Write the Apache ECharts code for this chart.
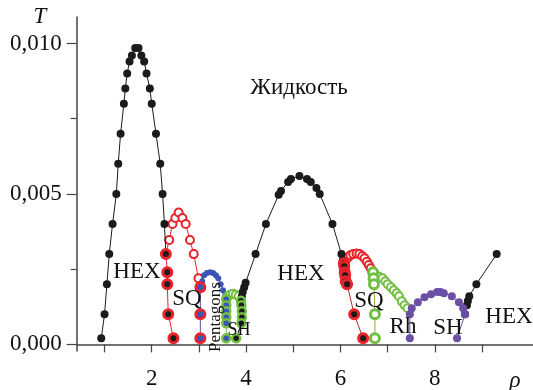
<!DOCTYPE html>
<html>
<head>
<meta charset="utf-8">
<script src="https://cdn.jsdelivr.net/npm/echarts@6/dist/echarts.min.js"></script>
<style>
  html, body { margin: 0; padding: 0; background: #fff; }
  #chart { width: 533px; height: 390px; }
</style>
</head>
<body>
<div id="chart"></div>
<script>
// data: [rho, T]
var hex1 = [[0.93,0.0002],[1.0,0.001],[1.05,0.002],[1.10,0.003],[1.17,0.004],[1.25,0.005],[1.29,0.006],[1.34,0.007],[1.41,0.008],[1.44,0.0085],[1.48,0.009],[1.53,0.0094],[1.58,0.0096],[1.65,0.00985],[1.72,0.00985],[1.78,0.0096],[1.84,0.0094],[1.89,0.009],[1.96,0.0085],[2.0,0.008],[2.09,0.007],[2.18,0.006],[2.23,0.005],[2.27,0.004],[2.30,0.003]];
var sqEdge1 = [[2.30,0.003],[2.33,0.0024],[2.33,0.002],[2.35,0.001],[2.46,0.0002]];
var sqDome1 = [[2.30,0.003],[2.37,0.00347],[2.44,0.0040],[2.50,0.0042],[2.57,0.00438],[2.65,0.0042],[2.72,0.0040],[2.81,0.00347],[2.89,0.003],[2.99,0.0022]];
var pentEdge = [[3.03,0.0019],[3.03,0.001],[3.03,0.0002]];
var pentDome = [[3.03,0.0019],[3.07,0.0021],[3.11,0.0023],[3.17,0.00237],[3.24,0.0024],[3.30,0.00237],[3.36,0.0023],[3.41,0.0022],[3.46,0.0020],[3.51,0.0018],[3.56,0.00165]];
var shEdge1L = [[3.58,0.0015],[3.58,0.0013],[3.58,0.0011],[3.58,0.0009],[3.58,0.0007],[3.58,0.0002]];
var shDome1 = [[3.58,0.0015],[3.61,0.0016],[3.66,0.00165],[3.72,0.00168],[3.78,0.00165],[3.84,0.0016],[3.89,0.00145]];
var shEdge1R = [[3.89,0.00145],[3.90,0.0013],[3.91,0.0011],[3.91,0.0009],[3.90,0.0007],[3.79,0.0002]];
var hex2 = [[3.89,0.00145],[3.91,0.0016],[3.93,0.00175],[3.96,0.0019],[3.99,0.00205],[4.2,0.003],[4.42,0.004],[4.69,0.00497],[4.74,0.0051],[4.89,0.0054],[4.95,0.0055],[5.13,0.0056],[5.29,0.0055],[5.37,0.0054],[5.49,0.0052],[5.56,0.005],[5.83,0.004],[6.02,0.003],[6.05,0.0028],[6.07,0.0027]];
var sqEdge2 = [[6.07,0.0027],[6.08,0.0026],[6.09,0.0024],[6.10,0.0023],[6.11,0.0021],[6.14,0.002],[6.29,0.001],[6.48,0.0002]];
var sqDome2 = [[6.07,0.0027],[6.11,0.0028],[6.16,0.00289],[6.21,0.00296],[6.27,0.003],[6.34,0.00302],[6.40,0.003],[6.46,0.00294],[6.51,0.00286],[6.56,0.00275],[6.60,0.00264],[6.64,0.00253],[6.69,0.0024]];
var rhEdge = [[6.69,0.0024],[6.70,0.0022],[6.71,0.002],[6.73,0.001],[6.73,0.0002]];
var rhDome = [[6.69,0.0024],[6.75,0.0023],[6.82,0.00225],[6.89,0.0022],[6.95,0.0021],[7.0,0.002],[7.07,0.0019],[7.13,0.0018],[7.19,0.0017],[7.24,0.0016],[7.30,0.00143],[7.36,0.0013],[7.42,0.0012]];
var sh2 = [[7.47,0.0002],[7.47,0.001],[7.51,0.0012],[7.64,0.0014],[7.78,0.00157],[7.92,0.00167],[8.05,0.00174],[8.12,0.00174],[8.19,0.0017],[8.36,0.0016],[8.51,0.0014],[8.60,0.0012],[8.64,0.001],[8.47,0.0002]];
var hex3 = [[8.64,0.001],[8.68,0.0013],[8.70,0.00144],[8.73,0.0016],[8.88,0.002],[9.31,0.003]];

var yMajor = [0, 0.005, 0.01];
var yMinor = [0.0025, 0.0075];
var xTicks = [1, 2, 3, 4, 5, 6, 7, 8, 9];
var xLabels = [2, 4, 6, 8];

var SERIF = '"Liberation Serif", "DejaVu Serif", serif';
var RED = '#e8232a', GREEN = '#72bf44', BLUE = '#3a55b4', PURPLE = '#6a4fa5', BLACK = '#1b1b1b';

function line(data, o) {
    return {
        type: 'line',
        data: data,
        symbol: 'circle',
        symbolSize: o.size || 8,
        z: o.z || 2,
        itemStyle: {
            color: o.fill,
            borderColor: o.ring || o.fill,
            borderWidth: o.ringW || 0
        },
        lineStyle: { color: o.line || o.fill, width: 1 },
        emphasis: { disabled: true }
    };
}

function label(text, x, y, size, extra) {
    var el = {
        type: 'text',
        x: x, y: y,
        style: {
            text: text,
            font: (extra && extra.italic ? 'italic ' : '') + size + 'px ' + SERIF,
            fill: '#111',
            textAlign: 'center',
            textVerticalAlign: 'middle'
        },
        z: 100
    };
    if (extra && extra.rotate) el.rotation = extra.rotate;
    return el;
}

var myChart = echarts.init(document.getElementById('chart'), null, { renderer: 'canvas' });

var axisCol = '#444';
var option = {
    animation: false,
    grid: { left: 76.7, right: 0, top: 17, bottom: 36.7 },
    xAxis: {
        type: 'value',
        min: 0.41, max: 10.08,
        axisLine: { lineStyle: { color: axisCol, width: 1.5 } },
        axisTick: { customValues: xTicks, length: 8, lineStyle: { color: axisCol, width: 1.2 } },
        axisLabel: { customValues: xLabels, margin: 16, color: '#111', fontSize: 23, fontFamily: SERIF },
        splitLine: { show: false }
    },
    yAxis: [{
        type: 'value',
        min: -0.00022, max: 0.01088,
        axisLine: { show: true, lineStyle: { color: axisCol, width: 1.5 } },
        axisTick: { show: true, customValues: yMajor, length: 10, lineStyle: { color: axisCol, width: 1.2 } },
        axisLabel: {
            customValues: yMajor, margin: 15, color: '#111', fontSize: 23, fontFamily: SERIF,
            formatter: function (v) { return v.toFixed(3).replace('.', ','); }
        },
        splitLine: { show: false }
    }, {
        type: 'value',
        position: 'left',
        min: -0.00022, max: 0.01088,
        axisLine: { show: false },
        axisTick: { show: true, customValues: yMinor, length: 6, lineStyle: { color: axisCol, width: 1.2 } },
        axisLabel: { show: false },
        splitLine: { show: false }
    }],
    series: [
        line(hex1, { fill: BLACK, size: 8, z: 3 }),
        line(sqDome1, { fill: '#fff', ring: RED, ringW: 2, line: RED, size: 8, z: 2 }),
        line(sqEdge1, { fill: BLACK, ring: RED, ringW: 3, line: RED, size: 9, z: 4 }),
        line(pentDome, { fill: BLUE, size: 6, z: 2 }),
        line(pentEdge, { fill: BLUE, ring: RED, ringW: 3, line: '#6a4c9c', size: 9, z: 4 }),
        line(shDome1, { fill: '#fff', ring: GREEN, ringW: 2, line: GREEN, size: 8, z: 2 }),
        line(shEdge1L, { fill: BLUE, ring: GREEN, ringW: 2.5, line: GREEN, size: 8, z: 4 }),
        line(hex2, { fill: BLACK, size: 8, z: 3 }),
        line(shEdge1R, { fill: BLACK, ring: GREEN, ringW: 2.5, line: BLACK, size: 8, z: 4 }),
        line(sqDome2, { fill: '#fff', ring: RED, ringW: 2, line: RED, size: 8, z: 2 }),
        line(sqEdge2, { fill: BLACK, ring: RED, ringW: 3, line: '#b5282e', size: 9, z: 4 }),
        line(rhDome, { fill: '#fff', ring: GREEN, ringW: 2, line: GREEN, size: 8, z: 2 }),
        line(rhEdge, { fill: '#fff', ring: GREEN, ringW: 3, line: '#a79f3c', size: 9, z: 4 }),
        line(hex3, { fill: BLACK, size: 8, z: 2 }),
        line(sh2, { fill: PURPLE, size: 8, z: 3 })
    ],
    graphic: [
        label('T', 40, 17, 23, { italic: true }),
        label('\u03c1', 515, 381, 23, { italic: true }),
        label('Жидкость', 299, 88, 23),
        label('HEX', 137, 272, 23),
        label('SQ', 187, 299, 23),
        label('Pentagons', 216, 317, 17, { rotate: Math.PI / 2 }),
        label('SH', 239, 330, 18),
        label('HEX', 301, 274, 23),
        label('SQ', 369, 301, 23),
        label('Rh', 403, 327, 23),
        label('SH', 448, 328, 23),
        label('HEX', 509, 317, 23)
    ]
};

myChart.setOption(option);
window.addEventListener('resize', myChart.resize);
</script>
</body>
</html>
